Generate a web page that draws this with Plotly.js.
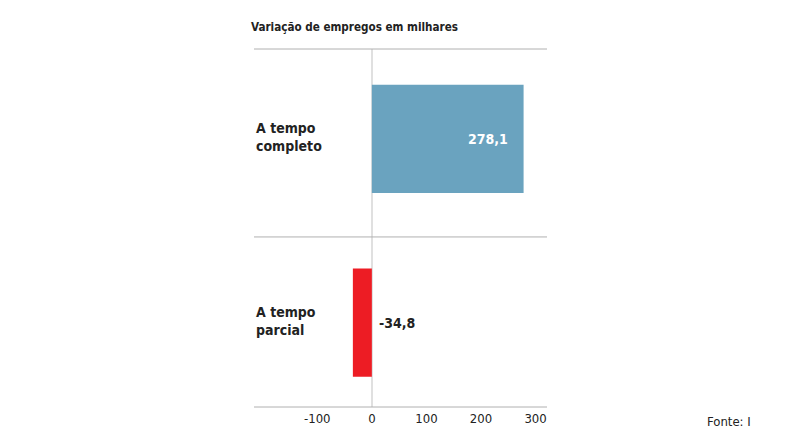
<!DOCTYPE html>
<html>
<head>
<meta charset="utf-8">
<script src="https://cdn.plot.ly/plotly-3.0.1.min.js"></script>
<style>
  html, body { margin: 0; padding: 0; background: #fff; }
  #chart { width: 790px; height: 445px; }
</style>
</head>
<body>
<div id="chart"></div>
<script>
"use strict"

var categories = ['A tempo<br>completo', 'A tempo<br>parcial'];
var values = [278.1, -34.8];
var barColors = ['#6aa3bf', '#ed1c24'];
var tickValues = [-100, 0, 100, 200, 300];
var tickLabels = ['-100', '0', '100', '200', '300'];

var FONT = '"DejaVu Sans Condensed", "DejaVu Sans", sans-serif';

function fmt(v) {
    return v.toFixed(1).replace('.', ',');
}

var trace = {
    type: 'bar',
    orientation: 'h',
    y: [0, 1],
    x: values,
    width: 0.59,
    marker: { color: barColors, line: { width: 0 } },
    hoverinfo: 'none'
};

var annotations = [];

categories.forEach(function(label, i) {
    annotations.push({
        xref: 'paper', yref: 'y',
        x: 0, y: i,
        xanchor: 'left', yanchor: 'middle',
        yshift: 2,
        align: 'left',
        text: '<b>' + label + '</b>',
        showarrow: false,
        font: { family: FONT, size: 14, color: '#222' }
    });
});

values.forEach(function(v, i) {
    var inside = v > 0;
    annotations.push({
        xref: 'x', yref: 'y',
        x: inside ? v : 0,
        y: i,
        xanchor: inside ? 'right' : 'left',
        yanchor: 'middle',
        xshift: inside ? -14 : 5,
        text: '<b>' + fmt(v) + '</b>',
        showarrow: false,
        font: { family: FONT, size: 14, color: inside ? '#ffffff' : '#222' }
    });
});

annotations.push({
    xref: 'paper', yref: 'paper',
    x: -0.017, y: 1.035,
    xanchor: 'left', yanchor: 'bottom',
    text: '<b>Variação de empregos em milhares</b>',
    showarrow: false,
    font: { family: FONT, size: 11.6, color: '#222' }
});

annotations.push({
    xref: 'paper', yref: 'paper',
    x: 1.54, y: -0.015,
    xanchor: 'left', yanchor: 'top',
    text: 'Fonte: I',
    showarrow: false,
    font: { family: FONT, size: 13, color: '#222' }
});

var lineStyle = { color: '#b0b0b0', width: 1 };

var layout = {
    width: 790,
    height: 445,
    margin: { l: 254, r: 243, t: 49, b: 38, pad: 0 },
    paper_bgcolor: '#ffffff',
    plot_bgcolor: '#ffffff',
    showlegend: false,
    font: { family: FONT, size: 12, color: '#222' },
    xaxis: {
        range: [-216, 321],
        tickvals: tickValues,
        ticktext: tickLabels,
        showgrid: false,
        zeroline: true,
        zerolinecolor: '#e0e0e0',
        zerolinewidth: 1.5,
        showline: false,
        ticks: '',
        ticklabelstandoff: 2,
        tickfont: { family: FONT, size: 13, color: '#222' },
        fixedrange: true
    },
    yaxis: {
        range: [1.46, -0.49],
        showticklabels: false,
        showgrid: false,
        zeroline: false,
        showline: false,
        ticks: '',
        fixedrange: true
    },
    shapes: [
        { type: 'line', xref: 'paper', yref: 'paper', x0: 0, x1: 1, y0: 1, y1: 1, line: lineStyle },
        { type: 'line', xref: 'paper', yref: 'paper', x0: 0, x1: 1, y0: 0.475, y1: 0.475, line: lineStyle },
        { type: 'line', xref: 'paper', yref: 'paper', x0: 0, x1: 1, y0: 0, y1: 0, line: lineStyle }
    ],
    annotations: annotations
};

Plotly.newPlot('chart', [trace], layout, { displayModeBar: false, staticPlot: true });
</script>
</body>
</html>
